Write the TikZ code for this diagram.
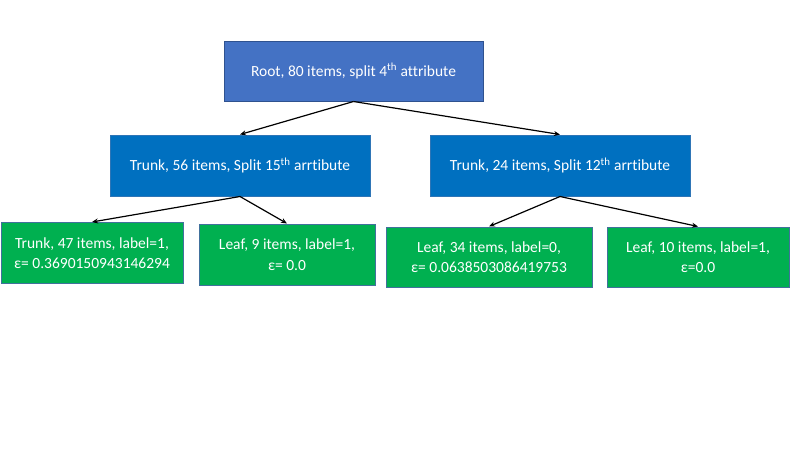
\documentclass[tikz,border=0pt]{standalone}
\usepackage{fontspec}
\setmainfont[Ligatures={NoCommon}]{Carlito}
\usetikzlibrary{arrows.meta}
\definecolor{rootblue}{HTML}{4472C4}
\definecolor{rootedge}{HTML}{2F528F}
\definecolor{trunkblue}{HTML}{0070C0}
\definecolor{trunkedge}{HTML}{2E75B6}
\definecolor{leafgreen}{HTML}{00B050}
\definecolor{leafedge}{HTML}{41719C}
\tikzset{
  box/.style={draw, line width=1pt, text=white, align=center, inner sep=0pt,
    font=\fontsize{15.5}{20.5}\selectfont},
  rootbox/.style={box, fill=rootblue, draw=rootedge},
  trunkbox/.style={box, fill=trunkblue, draw=trunkedge},
  leafbox/.style={box, fill=leafgreen, draw=leafedge},
  conn/.style={draw=black, line width=1.2pt, -{Stealth[length=6pt,width=5pt]}, shorten >=0pt}
}
\begin{document}
\begin{tikzpicture}[x=1pt,y=-1pt]
\useasboundingbox (0,0) rectangle (800,450);
\node[rootbox, minimum width=259pt, minimum height=60pt] (root) at (353.5,71) {Root, 80 items, split 4\textsuperscript{th} attribute};
\node[trunkbox, minimum width=260pt, minimum height=61pt] (tl) at (240,165.5) {Trunk, 56 items, Split 15\textsuperscript{th} arrtibute};
\node[trunkbox, minimum width=260pt, minimum height=61pt] (tr) at (560,165.5) {Trunk, 24 items, Split 12\textsuperscript{th} arrtibute};
\node[leafbox, minimum width=182pt, minimum height=61pt] (l1) at (92,253) {Trunk, 47 items, label=1,\\ε= 0.3690150943146294};
\node[leafbox, minimum width=176pt, minimum height=61pt] (l2) at (287,254.5) {Leaf, 9 items, label=1,\\ε= 0.0};
\node[leafbox, minimum width=206pt, minimum height=60pt] (l3) at (489,257) {Leaf, 34 items, label=0,\\ε= 0.0638503086419753};
\node[leafbox, minimum width=182pt, minimum height=60pt] (l4) at (698,257) {Leaf, 10 items, label=1,\\ε=0.0};
\draw[conn] (root.south) -- (tl.north);
\draw[conn] (root.south) -- (tr.north);
\draw[conn] (tl.south) -- (l1.north);
\draw[conn] (tl.south) -- (l2.north);
\draw[conn] (tr.south) -- (l3.north);
\draw[conn] (tr.south) -- (l4.north);
\end{tikzpicture}
\end{document}
